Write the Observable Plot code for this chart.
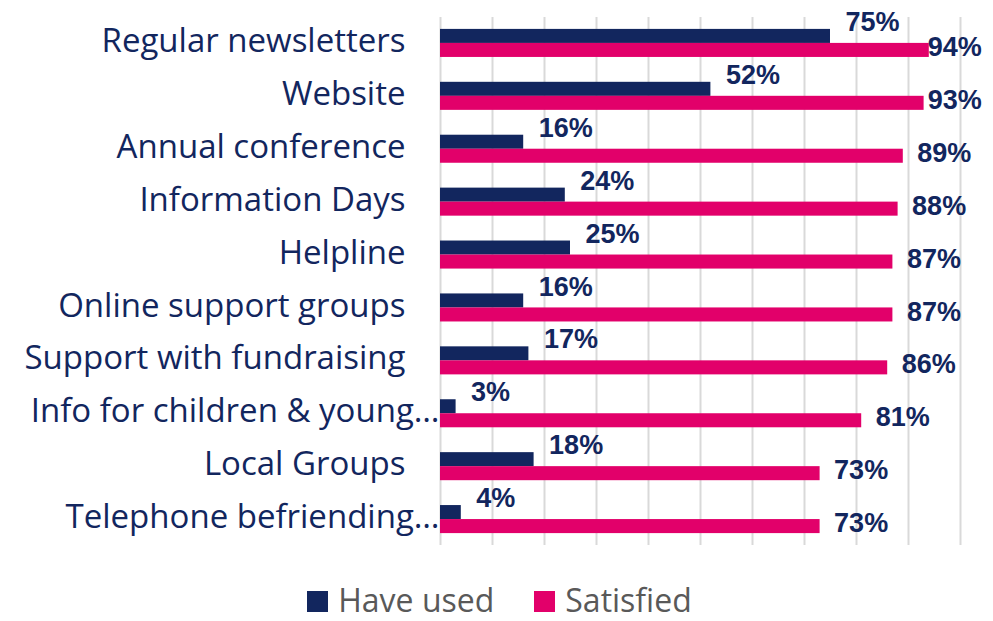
<!DOCTYPE html>
<html>
<head>
<meta charset="utf-8">
<script src="https://cdn.jsdelivr.net/npm/d3@7"></script>
<script src="https://cdn.jsdelivr.net/npm/@observablehq/plot@0.6"></script>
<style>
  html, body { margin: 0; padding: 0; background: #fff; }
  #chart { width: 993px; }
  .legend { display: flex; justify-content: center; align-items: center; font-family: "Open Sans", sans-serif; font-size: 32px; line-height: 34px; color: #595959; height: 34px; margin-top: 18px; padding-left: 6px; }
  .legend .item { display: flex; align-items: center; margin: 0 20px; }
  .legend .sw { width: 21px; height: 21px; margin-right: 10px; margin-top: 2px; }
</style>
</head>
<body>
<div id="chart"></div>
<script>
const categories = ["Regular newsletters", "Website", "Annual conference", "Information Days", "Helpline", "Online support groups", "Support with fundraising", "Info for children & young…", "Local Groups", "Telephone befriending…"];
const haveUsed = [75, 52, 16, 24, 25, 16, 17, 3, 18, 4];
const satisfied = [94, 93, 89, 88, 87, 87, 86, 81, 73, 73];
const seriesNames = ["Have used", "Satisfied"];
const seriesColors = ["#12265e", "#e2006a"];
const xTicks = [0, 10, 20, 30, 40, 50, 60, 70, 80, 90, 100];

const used = categories.map((c, i) => ({category: c, value: haveUsed[i], series: seriesNames[0]}));
const sat = categories.map((c, i) => ({category: c, value: satisfied[i], series: seriesNames[1]}));
const truncated = categories.filter(c => c.endsWith("…"));
const full = categories.filter(c => !c.endsWith("…"));

const plot = Plot.plot({
  width: 993,
  height: 565,
  marginTop: 17,
  marginBottom: 20,
  marginLeft: 440,
  marginRight: 33,
  x: {domain: [0, 100], axis: null},
  y: {domain: categories, paddingInner: 0.47, paddingOuter: 0.225, round: false, axis: null},
  color: {domain: seriesNames, range: seriesColors},
  style: {fontFamily: "'Liberation Sans', Arial, sans-serif"},
  marks: [
    Plot.ruleX(xTicks, {stroke: "#d9d9d9", strokeWidth: 2}),
    Plot.barX(used, {x: "value", y: "category", fill: "series", insetBottom: 14}),
    Plot.barX(sat, {x: "value", y: "category", fill: "series", insetTop: 14}),
    Plot.text(used, {x: "value", y: "category", text: d => d.value + "%", textAnchor: "start", dx: 15, dy: -21,
      fill: seriesColors[0], fontWeight: "bold", fontSize: 27}),
    Plot.text(sat, {x: d => Math.min(d.value, 91), y: "category", text: d => d.value + "%", textAnchor: "start", dx: 14, dy: 4,
      fill: seriesColors[0], fontWeight: "bold", fontSize: 27}),
    Plot.text(full, {y: d => d, text: d => d, frameAnchor: "left", textAnchor: "end", dx: -35, dy: -2,
      fill: "#12265e", fontSize: 33, fontFamily: "'Open Sans', sans-serif"}),
    Plot.text(truncated, {y: d => d, text: d => d, frameAnchor: "left", textAnchor: "end", dx: -1, dy: -2,
      fill: "#12265e", fontSize: 33, fontFamily: "'Open Sans', sans-serif"})
  ]
});
document.getElementById("chart").appendChild(plot);

const legend = document.createElement("div");
legend.className = "legend";
seriesNames.forEach((name, i) => {
  const item = document.createElement("div");
  item.className = "item";
  const sw = document.createElement("div");
  sw.className = "sw";
  sw.style.background = seriesColors[i];
  const label = document.createElement("span");
  label.textContent = name;
  item.appendChild(sw);
  item.appendChild(label);
  legend.appendChild(item);
});
document.getElementById("chart").appendChild(legend);
</script>
</body>
</html>
